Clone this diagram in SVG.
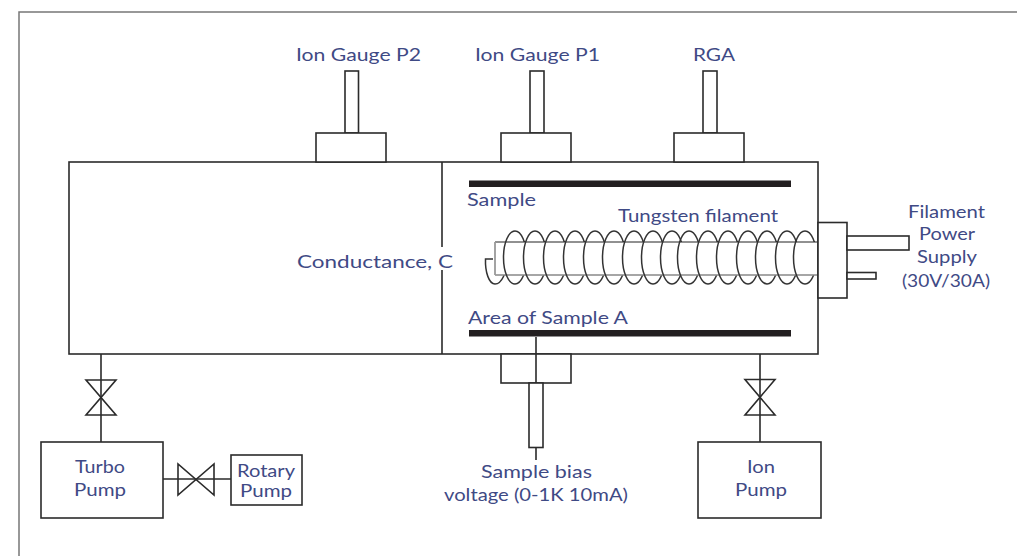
<svg xmlns="http://www.w3.org/2000/svg" width="1017" height="556" viewBox="0 0 1017 556">
<style>
.l{fill:none;stroke:#2b2b2b;stroke-width:1.6}
.b{fill:#fff;stroke:#2b2b2b;stroke-width:1.6}
.c{fill:none;stroke:#333;stroke-width:1.5}
.t{font-family:"Lato","Open Sans",sans-serif;font-size:18px;fill:#3f4a85}
</style>
<defs>
<path id="back" class="c" d="M0 -26.500A11.500 26.500 0 0 1 0 26.500"/>
<path id="front" class="c" d="M0 -26.500A11.500 26.500 0 0 0 0 26.500"/>
</defs>
<rect width="1017" height="556" fill="#fff"/>
<path d="M19 556V12H1017" fill="none" stroke="#777" stroke-width="1.5"/>
<g id="chamber"><rect class="l" x="69" y="162" width="749" height="192"/><path class="l" d="M442 162V247M442 270V354"/></g>
<g id="plates"><rect x="469" y="180.500" width="322" height="6.500" fill="#231f20"/><rect x="469" y="330" width="322" height="6.500" fill="#231f20"/></g>
<g id="ion-gauge-p2"><rect class="b" x="345" y="71" width="13.500" height="62"/><rect class="b" x="316" y="133" width="70" height="29"/><text class="t" x="296" y="61" textLength="125" lengthAdjust="spacingAndGlyphs">Ion Gauge P2</text></g>
<g id="ion-gauge-p1"><rect class="b" x="530" y="71" width="14" height="62"/><rect class="b" x="501" y="133" width="70" height="29"/><text class="t" x="475" y="61" textLength="125" lengthAdjust="spacingAndGlyphs">Ion Gauge P1</text></g>
<g id="rga"><rect class="b" x="703" y="71" width="14" height="62"/><rect class="b" x="674" y="133" width="70" height="29"/><text class="t" x="693" y="61" textLength="42" lengthAdjust="spacingAndGlyphs">RGA</text></g>
<g id="filament">
<path class="c" d="M495 284C502 284 506.500 272 506.500 262"/>
<g transform="translate(0,257.500)">
<use href="#back" x="515"/><use href="#back" x="535"/><use href="#back" x="555"/><use href="#back" x="575"/><use href="#back" x="595"/><use href="#back" x="614"/><use href="#back" x="634"/><use href="#back" x="653"/><use href="#back" x="672"/><use href="#back" x="689"/><use href="#back" x="708"/><use href="#back" x="728"/><use href="#back" x="748"/><use href="#back" x="767"/><use href="#back" x="787"/><use href="#back" x="805"/>
</g>
<rect x="495" y="242" width="322" height="33" fill="#fff"/>
<path d="M495 242H817" fill="none" stroke="#222" stroke-width="1"/><path d="M495 275H817" fill="none" stroke="#888" stroke-width="1.3"/><path d="M495 242V275" fill="none" stroke="#999" stroke-width="1.8"/>
<path class="c" d="M493 259H485.500C485 272 489 284 495 284"/>
<g transform="translate(0,257.500)">
<use href="#front" x="515"/><use href="#front" x="535"/><use href="#front" x="555"/><use href="#front" x="575"/><use href="#front" x="595"/><use href="#front" x="614"/><use href="#front" x="634"/><use href="#front" x="653"/><use href="#front" x="672"/><use href="#front" x="689"/><use href="#front" x="708"/><use href="#front" x="728"/><use href="#front" x="748"/><use href="#front" x="767"/><use href="#front" x="787"/><use href="#front" x="805"/>
</g>
</g>
<g id="filament-feedthrough"><rect class="b" x="818" y="222.500" width="29" height="75.500"/><rect class="b" x="847" y="236" width="62" height="14"/><rect class="b" x="847" y="272.500" width="29" height="6.500"/>
<text class="t" x="908" y="218" textLength="77" lengthAdjust="spacingAndGlyphs">Filament</text><text class="t" x="919" y="240" textLength="56" lengthAdjust="spacingAndGlyphs">Power</text><text class="t" x="917" y="263" textLength="60" lengthAdjust="spacingAndGlyphs">Supply</text><text class="t" x="902" y="287" textLength="88" lengthAdjust="spacingAndGlyphs">(30V/30A)</text></g>
<g id="sample-bias"><rect class="b" x="501" y="354" width="70" height="29"/><rect class="b" x="529" y="383" width="14" height="64.500"/><path class="l" d="M536 337V383M536 447.500V460"/><text class="t" x="481" y="478" textLength="111" lengthAdjust="spacingAndGlyphs">Sample bias</text><text class="t" x="444" y="501" textLength="184" lengthAdjust="spacingAndGlyphs">voltage (0-1K 10mA)</text></g>
<g id="turbo-pump"><rect class="b" x="41" y="442" width="122" height="76"/><text class="t" x="75" y="473" textLength="50" lengthAdjust="spacingAndGlyphs">Turbo</text><text class="t" x="74" y="496" textLength="52" lengthAdjust="spacingAndGlyphs">Pump</text></g>
<g id="rotary-pump"><rect class="b" x="231" y="455" width="71" height="50"/><text class="t" x="237" y="477" textLength="58" lengthAdjust="spacingAndGlyphs">Rotary</text><text class="t" x="240" y="497" textLength="52" lengthAdjust="spacingAndGlyphs">Pump</text></g>
<g id="ion-pump"><rect class="b" x="698" y="442" width="123" height="76"/><text class="t" x="747" y="473" textLength="28" lengthAdjust="spacingAndGlyphs">Ion</text><text class="t" x="735" y="496" textLength="52" lengthAdjust="spacingAndGlyphs">Pump</text></g>
<g id="connectors">
<path class="l" d="M101 354V442M163 479H231M760 354V442"/>
<path class="l" d="M86 380H116L86 415H116ZM178 464V495L214 464V495ZM745 379.500H775L745 415H775Z"/>
</g>
<g id="labels"><text class="t" x="467" y="206" textLength="69" lengthAdjust="spacingAndGlyphs">Sample</text><text class="t" x="618" y="222" textLength="160" lengthAdjust="spacingAndGlyphs">Tungsten filament</text><text class="t" x="297" y="268" textLength="156" lengthAdjust="spacingAndGlyphs">Conductance, C</text><text class="t" x="468" y="324" textLength="160" lengthAdjust="spacingAndGlyphs">Area of Sample A</text></g>
</svg>
